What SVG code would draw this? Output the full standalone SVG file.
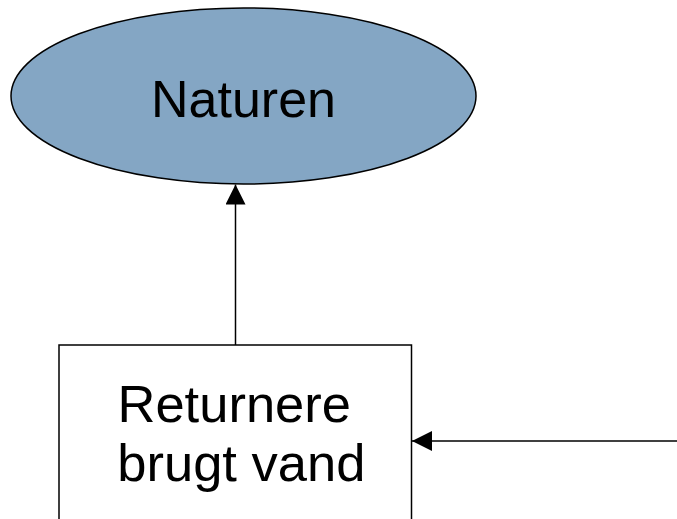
<svg xmlns="http://www.w3.org/2000/svg" width="677" height="519" viewBox="0 0 677 519">
<defs>
<style>
.shape{stroke:#000;stroke-width:1.5}
.lbl{font-family:"Liberation Sans",Arial,sans-serif;font-size:52px;fill:#000;text-anchor:middle}
.lbl2{font-family:"Liberation Sans",Arial,sans-serif;font-size:52.5px;fill:#000;text-anchor:start}
.conn{stroke:#000;stroke-width:1.5;fill:none}
</style>
<marker id="arr" viewBox="0 0 20 20" refX="20" refY="10" markerWidth="20" markerHeight="20" markerUnits="userSpaceOnUse" orient="auto">
<path d="M0,0 L20,10 L0,20 Z" fill="#000"/>
</marker>
</defs>
<rect width="677" height="519" fill="#fff"/>
<g id="naturen">
<ellipse class="shape" cx="243.5" cy="96" rx="232.5" ry="88" fill="#84A6C4"/>
<text class="lbl" x="243.5" y="117">Naturen</text>
</g>
<g id="returnere">
<rect class="shape" x="59" y="345" width="352.5" height="190" fill="#fff"/>
<text class="lbl2" x="117.5" y="421.7">Returnere</text>
<text class="lbl2" x="117.3" y="481">brugt vand</text>
</g>
<g id="connectors">
<line class="conn" x1="235.5" y1="345" x2="235.5" y2="184.5" marker-end="url(#arr)"/>
<line class="conn" x1="677" y1="441" x2="412" y2="441" marker-end="url(#arr)"/>
</g>
</svg>
